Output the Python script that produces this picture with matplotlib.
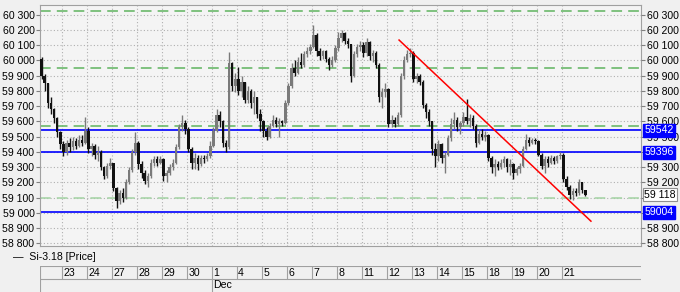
import numpy as np
import matplotlib.pyplot as plt

plt.rcParams['font.family'] = ['Liberation Sans', 'DejaVu Sans']
plt.rcParams['font.size'] = 7.6

# hourly-ish candles, 8 per day (first day partial: 7)
close = [59900, 59850, 59720, 59680, 59620, 59530, 59450,
         59400, 59460, 59430, 59470, 59440, 59480, 59460, 59540,
         59420, 59440, 59380, 59400, 59300, 59240, 59310, 59330,
         59160, 59080, 59130, 59100, 59200, 59280, 59400, 59460,
         59320, 59260, 59210, 59240, 59330, 59350, 59330, 59350,
         59240, 59260, 59300, 59330, 59430, 59560, 59590, 59550,
         59420, 59330, 59360, 59320, 59360, 59350, 59370, 59440,
         59540, 59640, 59600, 59460, 59430, 59980, 59830, 59880,
         59800, 59860, 59740, 59800, 59720, 59760, 59650, 59600,
         59540, 59500, 59570, 59610, 59580, 59600, 59590, 59720,
         59830, 59950, 59920, 59990, 59970, 60040, 60060, 60090,
         60170, 60060, 60030, 60060, 60010, 59970, 60000, 60080,
         60150, 60180, 60130, 60110, 59900, 60040, 60090, 60100,
         60050, 60120, 60030, 60050, 59970, 59760, 59790, 59810,
         59580, 59610, 59580, 59640, 59900, 60000, 60040, 60050,
         59880, 59900, 59860, 59710, 59660, 59600, 59420, 59370,
         59450, 59360, 59380, 59490, 59580, 59610, 59560, 59590,
         59630, 59600, 59620, 59570, 59460, 59520, 59500, 59510,
         59360, 59300, 59320, 59300, 59330, 59350, 59300, 59320,
         59260, 59290, 59310, 59420, 59480, 59460, 59480, 59470,
         59380, 59310, 59350, 59330, 59360, 59340, 59370, 59380,
         59220, 59170, 59120, 59140, 59130, 59200, 59150, 59118]
high = [60020, 59910, 59850, 59760, 59690, 59630, 59540,
        59470, 59480, 59490, 59500, 59490, 59510, 59510, 59630,
        59560, 59460, 59450, 59440, 59410, 59310, 59330, 59360,
        59330, 59170, 59150, 59160, 59220, 59300, 59420, 59530,
        59470, 59340, 59280, 59260, 59350, 59370, 59370, 59370,
        59360, 59280, 59320, 59350, 59450, 59580, 59640, 59610,
        59560, 59430, 59390, 59380, 59380, 59380, 59390, 59470,
        59560, 59680, 59670, 59610, 59480, 60055, 59990, 59920,
        59960, 59900, 59860, 59830, 59810, 59800, 59760, 59680,
        59610, 59560, 59590, 59640, 59630, 59620, 59610, 59740,
        59850, 59980, 60000, 60020, 60050, 60060, 60090, 60110,
        60230, 60180, 60080, 60070, 60070, 60020, 60030, 60100,
        60190, 60200, 60190, 60150, 60110, 60060, 60110, 60130,
        60120, 60150, 60130, 60070, 60060, 59980, 59820, 59850,
        59820, 59640, 59630, 59660, 59920, 60030, 60070, 60080,
        60060, 59920, 59910, 59870, 59720, 59680, 59600, 59460,
        59480, 59460, 59400, 59510, 59620, 59660, 59630, 59600,
        59660, 59750, 59650, 59640, 59580, 59550, 59550, 59540,
        59520, 59370, 59350, 59340, 59350, 59370, 59360, 59350,
        59330, 59300, 59330, 59440, 59520, 59500, 59490, 59490,
        59480, 59390, 59370, 59370, 59380, 59370, 59380, 59400,
        59390, 59240, 59180, 59160, 59160, 59220, 59200, 59150]
low = [59880, 59800, 59690, 59650, 59590, 59500, 59420,
       59370, 59380, 59400, 59410, 59420, 59430, 59440, 59450,
       59390, 59370, 59350, 59340, 59280, 59220, 59230, 59290,
       59140, 59030, 59060, 59070, 59090, 59190, 59270, 59380,
       59290, 59230, 59190, 59170, 59230, 59310, 59310, 59320,
       59210, 59200, 59250, 59280, 59320, 59420, 59540, 59520,
       59400, 59290, 59290, 59280, 59310, 59330, 59340, 59360,
       59430, 59530, 59560, 59430, 59400, 59420, 59800, 59790,
       59770, 59760, 59720, 59720, 59690, 59650, 59620, 59540,
       59500, 59480, 59490, 59560, 59560, 59500, 59570, 59580,
       59710, 59820, 59900, 59910, 59950, 59960, 60020, 60040,
       60080, 60030, 60000, 60010, 59990, 59940, 59960, 59990,
       60060, 60120, 60110, 60080, 59860, 59890, 60020, 60060,
       60020, 60030, 60000, 59990, 59950, 59730, 59690, 59760,
       59560, 59560, 59560, 59570, 59630, 59880, 59990, 60020,
       59860, 59850, 59840, 59690, 59620, 59570, 59380, 59300,
       59340, 59330, 59260, 59370, 59470, 59550, 59540, 59520,
       59570, 59580, 59560, 59550, 59430, 59450, 59480, 59470,
       59340, 59260, 59240, 59280, 59290, 59300, 59270, 59250,
       59220, 59250, 59260, 59300, 59410, 59440, 59450, 59450,
       59370, 59290, 59260, 59300, 59320, 59320, 59330, 59350,
       59200, 59150, 59090, 59085, 59110, 59120, 59130, 59110]
first_open = 60010

days = ['23', '24', '27', '28', '29', '30', '1', '4', '5', '6', '7', '8',
        '11', '12', '13', '14', '15', '18', '19', '20', '21']
month_label = 'Dec'
month_day = '1'
first_day_bars = 7
bars_per_day = 8

green_levels = [60326, 59948, 59568, 59097]
green_colors = ['#5fb35f', '#5fb35f', '#5fb35f', '#a3d3a3']
blue_levels = [59542, 59396, 59004]
last_price = 59118
trend_x = [114.9, 176.3]
trend_y = [60134, 58945]
y_ticks = list(range(58800, 60301, 100))
# right-side tick labels fully covered by the price boxes
hidden_right = [59000, 59100, 59400]

opens = [first_open] + close[:-1]
o = np.array(opens)
c = np.array(close)
h = np.array(high)
l = np.array(low)
x = np.arange(len(c)) + 0.5
day_start = [first_day_bars + bars_per_day * i for i in range(len(days))]

W, H = 680, 292
fig = plt.figure(figsize=(W / 100, H / 100), dpi=100, facecolor='#f0f0f0')
ax = fig.add_axes([40 / W, 46 / H, 601 / W, 241 / H], facecolor='#f4f4f4')
ax.set_xlim(0, 601 / 3.125)
ax.set_ylim(58782, 60364)

for s in ax.spines.values():
    s.set_color('#a0a0a0')
    s.set_linewidth(0.8)

ax.set_xticks(day_start)
ax.set_yticks(y_ticks)
ax.grid(True, color='#b0b0b0', linestyle=(0, (1, 2)), linewidth=0.8, zorder=0)
ax.tick_params(axis='x', length=0, labelbottom=False)
ax.tick_params(axis='y', length=3, color='#808080', pad=1)
ax.set_yticklabels([f'{v:,}'.replace(',', ' ') for v in y_ticks])

for v, col in zip(green_levels, green_colors):
    ax.axhline(v, color=col, linestyle=(0, (7, 4)), linewidth=1.1, zorder=2)
for v in blue_levels:
    ax.axhline(v, color='#0000ff', linewidth=1.2, zorder=2)

up = c >= o
colors = np.where(up, '#7a7a7a', '#111111')
ax.vlines(x, l, h, colors=colors, linewidth=1.0, zorder=3)
ax.bar(x, np.maximum(np.abs(c - o), 6), bottom=np.minimum(o, c), width=0.8,
       color=colors, zorder=4)

ax.plot(trend_x, trend_y, color='#ff0000', linewidth=1.1, zorder=5)

ax2 = ax.twinx()
ax2.set_ylim(ax.get_ylim())
ax2.set_yticks(y_ticks)
ax2.set_yticklabels(['' if v in hidden_right else f'{v:,}'.replace(',', ' ')
                     for v in y_ticks])
ax2.tick_params(axis='y', length=3, color='#808080', pad=1)
for s in ax2.spines.values():
    s.set_visible(False)

for v in blue_levels:
    ax2.text(1.0055, v, str(v), transform=ax2.get_yaxis_transform(), color='white',
             va='center', ha='left', zorder=10,
             bbox=dict(boxstyle='square,pad=0.15', fc='#0000ff', ec='#0000ff'))
ax2.text(1.0055, last_price, f'{last_price:,}'.replace(',', ' '),
         transform=ax2.get_yaxis_transform(), color='black', va='center', ha='left',
         zorder=10, bbox=dict(boxstyle='square,pad=0.15', fc='white', ec='#909090', lw=0.8))

fig.text(13 / W, 1 - 257 / H, '—  Si-3.18 [Price]', va='center', ha='left')

# date panel
dx = fig.add_axes([40 / W, 0, 601 / W, 26 / H])
dx.set_xlim(ax.get_xlim())
dx.set_ylim(0, 2)
dx.axis('off')
dx.axhline(2, color='#a0a0a0', linewidth=0.8)
dx.axhline(1, color='#a0a0a0', linewidth=0.8)
dx.vlines([0] + day_start, 1, 2, color='#a0a0a0', linewidth=0.8)
dx.vlines([0, day_start[days.index(month_day)]], 0, 1, color='#a0a0a0', linewidth=0.8)
for d, s in zip(days, day_start):
    dx.text(s + 0.4, 1.5, d, va='center', ha='left')
dx.text(day_start[days.index(month_day)] + 0.4, 0.5, month_label, va='center', ha='left')

fig.savefig('out.png', dpi=100, facecolor=fig.get_facecolor())
